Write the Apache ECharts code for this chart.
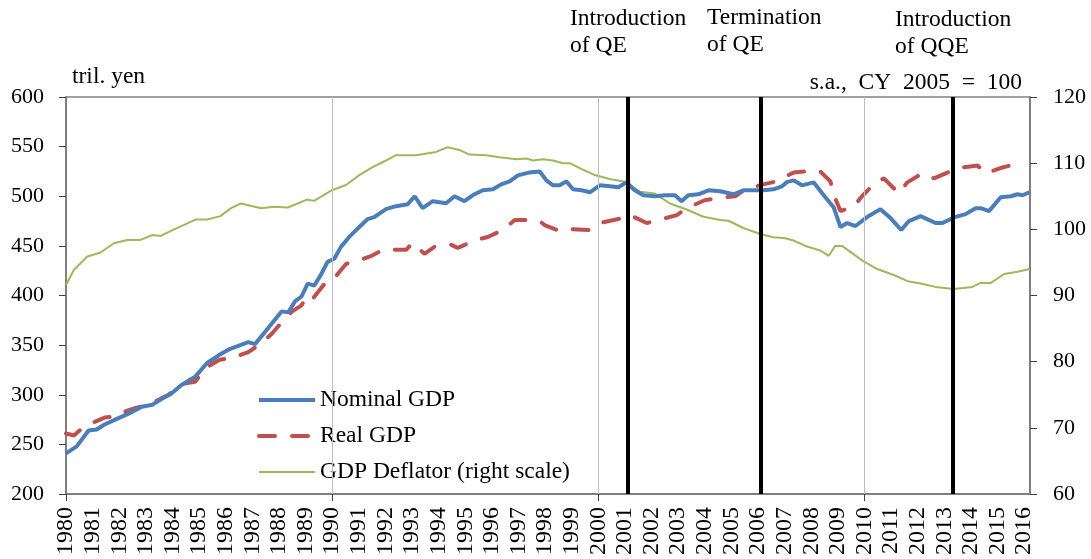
<!DOCTYPE html>
<html>
  <head>
    <meta charset="utf-8">
    <title>Japan GDP</title>
    <style type="text/css">
    html,body{margin:0;padding:0;background:#fff;}
    #main{width:1091px;height:559px;}
    </style>
    <script src="https://cdn.jsdelivr.net/npm/echarts@6/dist/echarts.min.js"></script>
  </head>
  <body>
    <div id="main"></div>
    <script type="text/javascript">
      // quarterly-ish readings, year position -> value
      var nominalYears = [1980.0,1980.4,1980.85,1981.15,1981.45,1981.85,1982.35,1982.85,1983.25,1983.6,1983.95,1984.35,1984.65,1984.85,1985.3,1985.75,1986.15,1986.65,1986.85,1987.1,1987.5,1987.8,1988.1,1988.35,1988.6,1988.85,1989.08,1989.33,1989.58,1989.83,1990.08,1990.33,1990.64,1991.02,1991.33,1991.58,1992.02,1992.4,1992.84,1993.1,1993.4,1993.78,1994.28,1994.6,1994.97,1995.28,1995.66,1996.04,1996.35,1996.67,1996.98,1997.42,1997.8,1998.05,1998.3,1998.55,1998.8,1999.05,1999.37,1999.68,2000.06,2000.43,2000.75,2001.06,2001.37,2001.69,2002.13,2002.5,2002.88,2003.13,2003.38,2003.76,2004.14,2004.58,2005.08,2005.45,2005.83,2006.2,2006.58,2006.9,2007.1,2007.34,2007.65,2008.09,2008.47,2008.84,2009.1,2009.35,2009.66,2010.1,2010.6,2010.98,2011.38,2011.67,2012.11,2012.67,2012.93,2013.39,2013.8,2014.18,2014.37,2014.68,2015.12,2015.5,2015.75,2015.94,2016.2];
      var nominalGdp = [241,248,264,265,270,275,281,288,290,296,301,310,315,318,332,340,346,351,353,351,364,374,384,383,394,399,412,410,421,434,437,449,459,469,477,479,487,490,492,500,488,495,493,500,495,501,506,507,512,515,521,524,525,516,511,511,515,507,506,504,511,510,509,514,506,501,500,501,501,495,501,502,506,505,502,506,506,506,507,510,514.5,516,511,514,501,489,469,473,470,479,487,478,466,475,480,473,473,479,482,488,488,485,499,500,502,501,504];

      var realYears = [1980.0,1980.3,1980.55,1981.1,1981.45,1981.85,1982.3,1982.65,1983.1,1983.4,1983.85,1984.4,1984.85,1985.25,1985.75,1986.35,1986.85,1987.35,1987.75,1988.2,1988.5,1988.85,1989.05,1989.28,1989.78,1990.03,1990.53,1990.85,1991.48,1991.9,1992.4,1992.78,1993.02,1993.47,1993.84,1994.47,1994.72,1995.41,1995.85,1996.41,1996.86,1997.3,1997.8,1997.98,1998.55,1998.93,1999.68,2000.06,2000.75,2001.19,2001.82,2002.25,2002.95,2003.32,2004.0,2004.45,2005.14,2005.52,2006.2,2006.7,2007.34,2007.78,2008.34,2008.72,2008.9,2009.1,2009.6,2009.91,2010.41,2010.73,2011.29,2011.61,2012.17,2012.61,2013.3,2013.68,2014.25,2014.56,2015.19,2015.62,2016.0];
      var realGdp = [261,259,265,273,277,278,284,287,290,294,300,311,313,327,335,338,343,352,362,376,384,390,400,397,414,416,432,434,440,446,446,446,453,442,449,451,448,456,459,466,476,476,475,471,465,467,466,473,477,481,473,476,481,488,496,498,500,507,512,515,524,525,525,515,498,485,490,500,514,518,503,514,523,518,526,529,531,523,529,532,531];

      var deflatorYears = [1980.0,1980.3,1980.8,1981.3,1981.8,1982.3,1982.8,1983.25,1983.56,1984.06,1984.56,1984.88,1985.3,1985.8,1986.2,1986.57,1987.33,1987.83,1988.33,1988.7,1989.05,1989.32,1990.01,1990.52,1991.02,1991.52,1992.02,1992.4,1993.15,1993.9,1994.34,1994.78,1995.16,1995.79,1996.29,1996.92,1997.3,1997.54,1997.92,1998.3,1998.67,1998.93,1999.43,1999.87,2000.43,2001.0,2001.56,2002.13,2002.69,2003.32,2003.95,2004.58,2004.89,2005.45,2006.08,2006.58,2007.02,2007.34,2007.84,2008.34,2008.66,2008.9,2009.16,2009.91,2010.48,2011.1,2011.67,2012.11,2012.67,2013.36,2014.05,2014.37,2014.75,2015.25,2015.75,2016.2];
      var gdpDeflator = [91.6,93.9,95.9,96.5,97.9,98.4,98.4,99.15,99.0,100.0,100.9,101.5,101.5,102.0,103.2,103.9,103.2,103.4,103.3,103.9,104.5,104.3,105.95,106.7,108.2,109.4,110.4,111.2,111.2,111.7,112.4,112.0,111.3,111.2,110.9,110.6,110.7,110.4,110.6,110.4,110.0,110.0,109.0,108.2,107.6,107.2,105.7,105.4,103.9,103.0,101.9,101.4,101.3,100.2,99.3,98.8,98.65,98.3,97.4,96.8,96.0,97.5,97.5,95.3,94.0,93.1,92.1,91.8,91.3,91.0,91.3,91.9,91.9,93.25,93.6,94.0];

      var gridYears = [1990, 2000, 2010];
      var policyDates = [2001.1, 2006.1, 2013.33];
      var tickYears = [1980, 1990, 2000, 2010];

      function pairs(xs, ys) {
        return xs.map(function (x, i) { return [x, ys[i]]; });
      }

      var serif = 'Liberation Serif';
      var bigFont = '23.5px "Liberation Serif"';
      var myChart = echarts.init(document.getElementById('main'));
      var option = {
        animation: false,
        textStyle: { fontFamily: serif, color: '#000' },
        grid: {
          left: 66, right: 61, top: 97, bottom: 65,
          show: true, borderColor: '#404040', borderWidth: 1, backgroundColor: 'transparent'
        },
        legend: {
          data: [
            { name: 'Nominal GDP', lineStyle: { width: 4 } },
            { name: 'Real GDP', lineStyle: { width: 4 } },
            { name: 'GDP Deflator (right scale)', lineStyle: { width: 2 } }
          ],
          orient: 'vertical',
          left: 252, top: 383,
          itemWidth: 56, itemHeight: 14, itemGap: 12,
          itemStyle: { opacity: 0 },
          textStyle: { fontFamily: serif, fontSize: 23.5, color: '#000', lineHeight: 24 }
        },
        xAxis: {
          type: 'value',
          min: 1980, max: 2016.22, interval: 1,
          axisLine: { lineStyle: { color: '#7f7f7f', width: 2 } },
          axisTick: { show: true, customValues: tickYears, length: 7, lineStyle: { color: '#404040', width: 1 } },
          splitLine: { show: false },
          axisLabel: {
            rotate: 90, margin: 13, fontSize: 24, color: '#000', fontFamily: serif,
            formatter: function (v) { return v % 1 === 0 ? String(v) : ''; }
          }
        },
        yAxis: [
          {
            type: 'value', min: 200, max: 600, interval: 50, position: 'left',
            axisLine: { show: true, lineStyle: { color: '#7f7f7f', width: 2 } },
            axisTick: { show: true, length: 7, lineStyle: { color: '#404040' } },
            splitLine: { show: false },
            axisLabel: { margin: 22, fontSize: 22, color: '#000', fontFamily: serif }
          },
          {
            type: 'value', min: 60, max: 120, interval: 10, position: 'right',
            axisLine: { show: true, lineStyle: { color: '#7f7f7f', width: 2 } },
            axisTick: { show: true, length: 7, lineStyle: { color: '#404040' } },
            splitLine: { show: false },
            axisLabel: { margin: 23, fontSize: 22, color: '#000', fontFamily: serif }
          }
        ],
        graphic: [
          { type: 'text', left: 72, top: 65, style: { text: 'tril. yen', font: bigFont, fill: '#000' } },
          { type: 'text', right: 69, top: 71, style: { text: 's.a.,  CY  2005  =  100', font: bigFont, fill: '#000' } },
          { type: 'text', left: 570, top: 5, style: { text: 'Introduction\nof QE', font: bigFont, lineHeight: 27, fill: '#000' } },
          { type: 'text', left: 707, top: 4, style: { text: 'Termination\nof QE', font: bigFont, lineHeight: 27, fill: '#000' } },
          { type: 'text', left: 895, top: 6, style: { text: 'Introduction\nof QQE', font: bigFont, lineHeight: 27, fill: '#000' } }
        ],
        series: [
          {
            name: 'grid', type: 'line', z: 1, silent: true,
            data: [[1980, 200]], symbol: 'none', lineStyle: { opacity: 0 },
            markLine: {
              silent: true, symbol: 'none', label: { show: false },
              lineStyle: { color: '#bdbdbd', width: 1, type: 'solid' },
              data: gridYears.map(function (y) { return { xAxis: y }; })
            }
          },
          {
            name: 'Nominal GDP', type: 'line', yAxisIndex: 0, z: 4,
            data: pairs(nominalYears, nominalGdp),
            symbol: 'none', color: '#4a7ebb',
            lineStyle: { color: '#4a7ebb', width: 4 }
          },
          {
            name: 'Real GDP', type: 'line', yAxisIndex: 0, z: 3,
            data: pairs(realYears, realGdp),
            symbol: 'none', color: '#c0504d',
            lineStyle: { color: '#c0504d', width: 4, type: [16, 17], cap: 'round' }
          },
          {
            name: 'GDP Deflator (right scale)', type: 'line', yAxisIndex: 1, z: 2,
            data: pairs(deflatorYears, gdpDeflator),
            symbol: 'none', color: '#9bbb59',
            lineStyle: { color: '#9bbb59', width: 2 }
          },
          {
            name: 'policy', type: 'line', z: 5, silent: true,
            data: [[1980, 200]], symbol: 'none', lineStyle: { opacity: 0 },
            markLine: {
              silent: true, symbol: 'none', label: { show: false },
              lineStyle: { color: '#000', width: 4, type: 'solid' },
              data: policyDates.map(function (y) { return { xAxis: y }; })
            }
          }
        ]
      };
      myChart.setOption(option);
    </script>
  </body>
</html>
